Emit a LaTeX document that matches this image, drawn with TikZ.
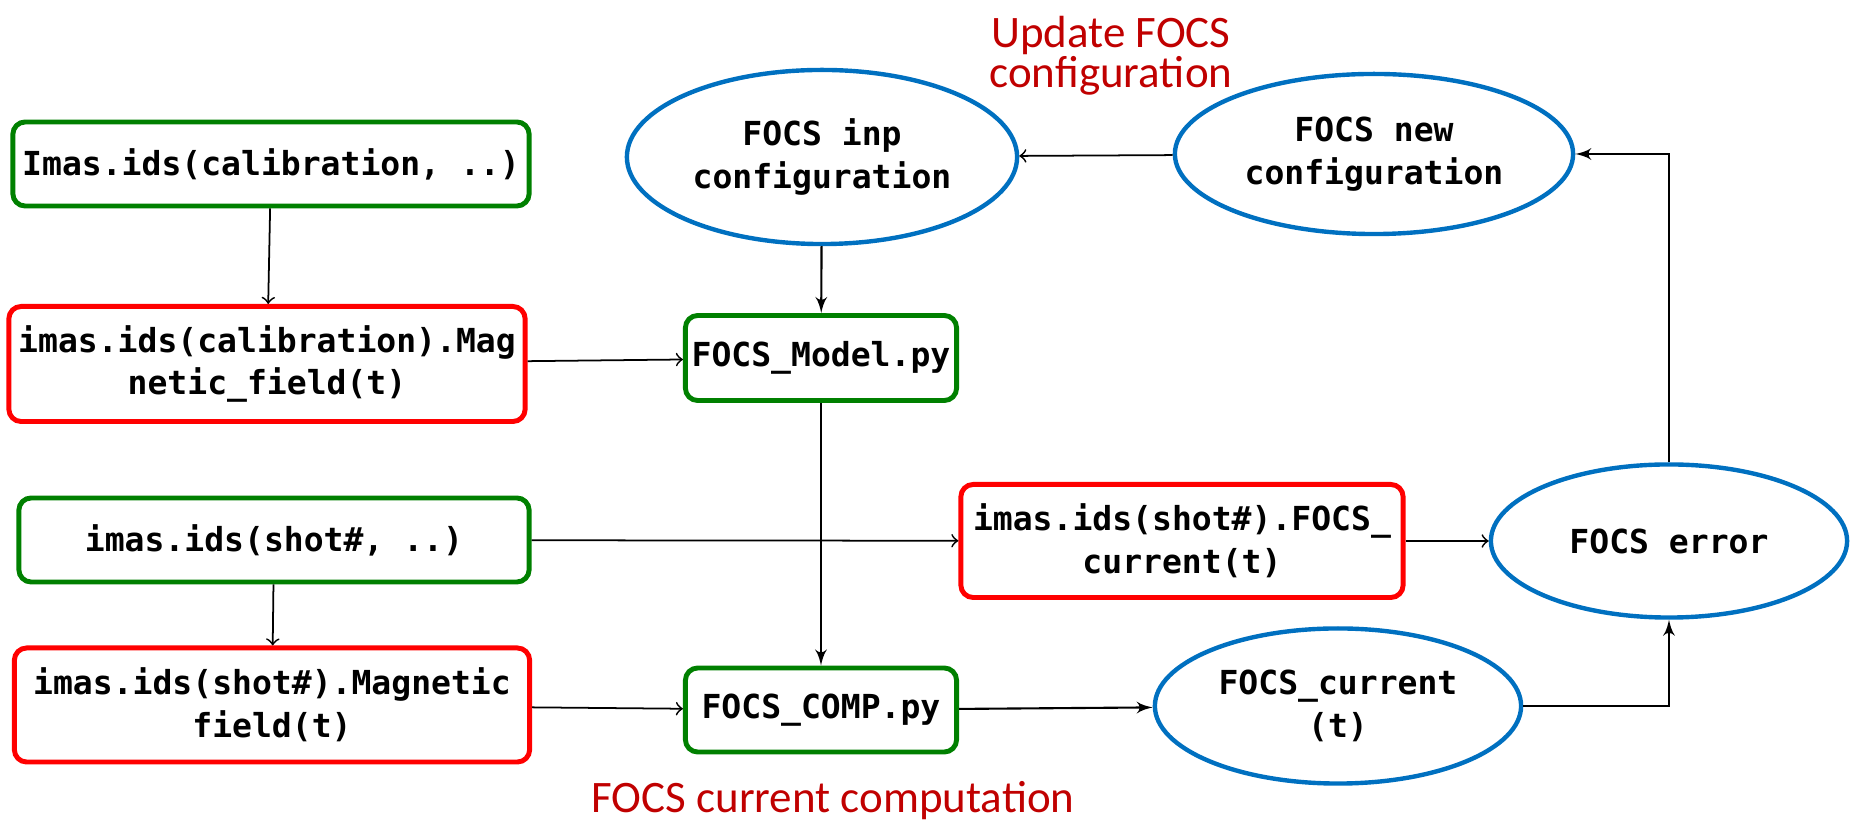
\documentclass[tikz,border=0pt]{standalone}
\usepackage{fontspec}
\setmonofont{DejaVu Sans Mono}
\setsansfont{Carlito}
\usepackage{tikz}
\usetikzlibrary{arrows,shapes.geometric,calc}

\definecolor{boxgreen}{RGB}{0,128,0}
\definecolor{boxred}{RGB}{255,0,0}
\definecolor{ellblue}{RGB}{0,112,192}
\definecolor{notered}{RGB}{192,0,0}

\begin{document}
\begin{tikzpicture}[x=0.01cm, y=-0.01cm,
            every node/.style={font=\fontsize{9.4}{12.2}\selectfont\ttfamily\bfseries, align=center, inner sep=0pt},
            gbox/.style={draw=boxgreen, line width=1.4pt, rounded corners=3.5pt, minimum height=0.84cm},
            rbox/.style={draw=boxred, line width=1.4pt, rounded corners=3.5pt, minimum height=1.14cm},
            bell/.style={draw=ellblue, line width=1.25pt, ellipse},
            note/.style={text=notered, font=\fontsize{12.8}{11.4}\selectfont\sffamily},
            conn/.style={->, >=to, line width=0.5pt},
            fconn/.style={-latex', line width=0.6pt}]
        \useasboundingbox (0,0) rectangle (1850,822);

        % inputs on the left
        \node[gbox, minimum width=5.16cm] (calib) at (271,164) {Imas.ids(calibration, ..)};
        \node[rbox, minimum width=5.16cm, minimum height=1.15cm] (calibfield) at (267,364) {imas.ids(calibration).Mag\\netic\_field(t)};
        \node[gbox, minimum width=5.10cm] (shot) at (274,540) {imas.ids(shot\#, ..)};
        \node[rbox, minimum width=5.15cm] (shotfield) at (272,705) {imas.ids(shot\#).Magnetic\\field(t)};

        % scripts
        \node[gbox, minimum width=2.71cm, minimum height=0.85cm] (model) at (821,358) {FOCS\_Model.py};
        \node[gbox, minimum width=2.71cm] (comp) at (821,710) {FOCS\_COMP.py};
        \node[rbox, minimum width=4.42cm, minimum height=1.13cm] (measured) at (1182,541) {imas.ids(shot\#).FOCS\_\\current(t)};

        % ellipses
        \node[bell, minimum width=3.90cm, minimum height=1.74cm] (inpconf) at (822,157) {FOCS inp\\configuration};
        \node[bell, minimum width=3.98cm, minimum height=1.60cm] (newconf) at (1374,154) {FOCS new\\configuration};
        \node[bell, minimum width=3.56cm, minimum height=1.53cm] (err) at (1669,541) {FOCS error};
        \node[bell, minimum width=3.66cm, minimum height=1.55cm] (current) at (1338,706) {FOCS\_current\\(t)};

        % red notes
        \node[note] (updnote) at (1111,56) {Update FOCS\\configuration};
        \node[note, anchor=base] (compnote) at (833,813) {FOCS current computation};

        % connectors
        \draw[conn] (calib) -- (calibfield);
        \draw[conn] (calibfield) -- (model);
        \draw[conn] (shot) -- (shotfield);
        \draw[conn] (shot) -- (measured);
        \draw[conn] (shotfield) -- (comp);
        \draw[conn] (measured) -- (err);
        \draw[conn] (newconf) -- (inpconf);
        \draw[fconn] (inpconf) -- (model);
        \draw[fconn] (model) -- (comp);
        \draw[fconn] (comp) -- (current);
        \draw[fconn] (current.east) -| (err.south);
        \draw[fconn] (err.north) |- (newconf.east);
\end{tikzpicture}
\end{document}
